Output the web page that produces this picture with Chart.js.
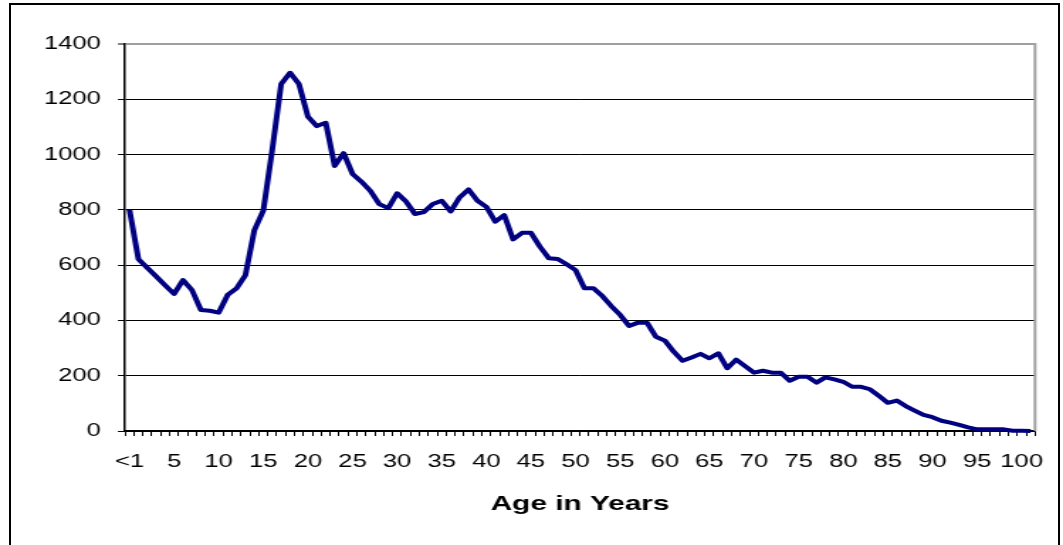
<!DOCTYPE html>
<html>
<head>
<meta charset="utf-8">
<title>Age in Years</title>
<script src="https://cdn.jsdelivr.net/npm/chart.js@4/dist/chart.umd.min.js"></script>
<style>
    html, body { margin: 0; padding: 0; background: #fff; overflow: hidden; }
    #frame {
        position: absolute; left: 9px; top: 3px;
        width: 1047px; height: 600px;
        border: 2px solid #000;
    }
    #chart {
        position: absolute; left: 0; top: 0;
        transform: scaleX(1.41923); transform-origin: 0 0;
    }
</style>
</head>
<body>
<div id="frame"></div>
<canvas id="chart" width="749" height="545"></canvas>
<script>
// --- dados ---
const ageLabels = ['<1'];
for (let a = 1; a <= 101; a++) ageLabels.push(String(a));

const counts = [
    800, 622, 590, 559, 527, 496, 546, 510, 438, 435,
    428, 492, 516, 564, 727, 797, 1017, 1255, 1296, 1255,
    1137, 1103, 1115, 959, 1005, 930, 902, 869, 821, 806,
    860, 830, 785, 792, 821, 833, 794, 845, 874, 833,
    811, 757, 781, 693, 717, 717, 667, 625, 622, 603,
    582, 516, 516, 488, 452, 420, 380, 392, 392, 341,
    327, 287, 254, 266, 279, 263, 281, 227, 258, 235,
    211, 218, 211, 211, 182, 196, 196, 175, 194, 187,
    178, 160, 160, 151, 127, 102, 110, 90, 74, 58,
    50, 37, 30, 22, 13, 6, 6, 6, 6, 1,
    1, 0
];

const yTicks = [0, 200, 400, 600, 800, 1000, 1200, 1400];
const xTitle = 'Age in Years';

// --- borda direita cinza da área do gráfico ---
const rightBorder = {
    id: 'rightBorder',
    beforeDatasetsDraw(chart) {
        const { ctx, chartArea } = chart;
        ctx.save();
        ctx.strokeStyle = '#a0a0a0';
        ctx.lineWidth = 2;
        ctx.beginPath();
        ctx.moveTo(chartArea.right, chartArea.top - 1);
        ctx.lineTo(chartArea.right, chartArea.bottom);
        ctx.stroke();
        ctx.restore();
    }
};

const font = { family: "'Liberation Sans', Arial, sans-serif", size: 18 };

new Chart(document.getElementById('chart'), {
    type: 'line',
    data: {
        labels: ageLabels,
        datasets: [{
            data: counts,
            borderColor: '#000080',
            borderWidth: 4,
            borderJoinStyle: 'round',
            pointRadius: 0,
            tension: 0,
            fill: false,
            clip: false
        }]
    },
    options: {
        responsive: false,
        animation: false,
        layout: { padding: { left: 0, right: 19.7, top: 44, bottom: 0 } },
        plugins: { legend: { display: false }, tooltip: { enabled: false } },
        scales: {
            x: {
                type: 'category',
                offset: true,
                afterFit: (scale) => { scale.height = 114; },
                grid: {
                    offset: true,
                    drawOnChartArea: false,
                    tickLength: 5,
                    color: '#000',
                    lineWidth: 1
                },
                border: { color: '#000', width: 1.5 },
                ticks: {
                    autoSkip: false,
                    maxRotation: 0,
                    padding: 15,
                    color: '#000',
                    font: font,
                    callback: function (val, idx) {
                        return (idx % 5 === 0 && idx <= 100) ? this.getLabelForValue(val) : '';
                    }
                },
                title: {
                    display: true,
                    text: xTitle,
                    color: '#000',
                    font: { family: font.family, size: 21, weight: 'bold' },
                    padding: { top: 0, bottom: 28 }
                }
            },
            y: {
                min: 0,
                max: 1400,
                afterFit: (scale) => { scale.width = 88.08; },
                afterBuildTicks: (scale) => { scale.ticks = yTicks.map(v => ({ value: v })); },
                grid: {
                    color: (c) => c.tick && c.tick.value === 1400 ? '#a0a0a0' : '#000',
                    lineWidth: (c) => c.tick && c.tick.value === 1400 ? 2 : 1,
                    tickColor: '#000',
                    tickWidth: 1,
                    tickLength: 5
                },
                border: { color: '#000', width: 1.5 },
                ticks: {
                    padding: 12,
                    color: '#000',
                    font: font,
                    callback: (v) => String(v)
                }
            }
        }
    },
    plugins: [rightBorder]
});
</script>
</body>
</html>
